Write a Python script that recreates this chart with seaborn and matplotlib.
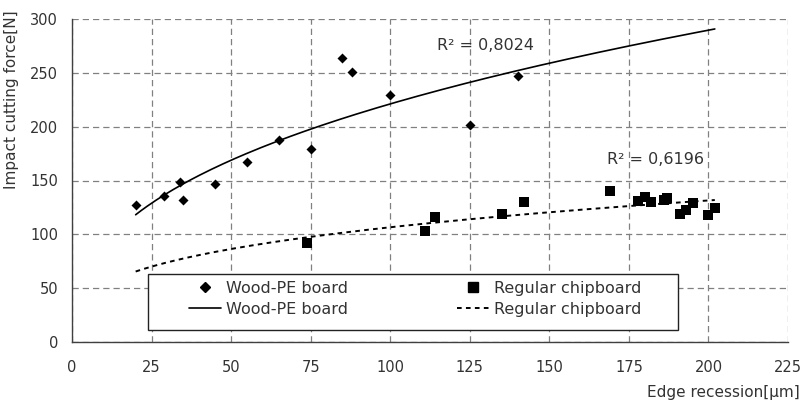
import numpy as np
import pandas as pd
import matplotlib
matplotlib.use("Agg")
import matplotlib.pyplot as plt
import seaborn as sns
from matplotlib.lines import Line2D
from matplotlib.patches import Rectangle

# ---- data ----
wood_x = [20, 29, 34, 35, 45, 55, 65, 75, 85, 88, 100, 125, 140]
wood_y = [127, 136, 149, 132, 147, 167, 188, 179, 264, 251, 229, 202, 247]
chip_x = [74, 111, 114, 135, 142, 169, 178, 180, 182, 186, 187, 191, 193, 195, 200, 202]
chip_y = [92, 103, 116, 119, 130, 140, 131, 135, 130, 132, 134, 119, 123, 129, 118, 124]
trend_range = [20, 202]
r2_wood = "0,8024"
r2_chip = "0,6196"
x_ticks = [0, 25, 50, 75, 100, 125, 150, 175, 200, 225]
y_ticks = [0, 50, 100, 150, 200, 250, 300]
label_wood = "Wood-PE board"
label_chip = "Regular chipboard"

sns.set_style("white")
plt.rcParams["font.family"] = ["DejaVu Sans"]
TXT = "#333333"

fig = plt.figure(figsize=(8.05, 4.03), dpi=100)
ax = fig.add_axes([72 / 805, 1 - 342 / 403, 716 / 805, 323 / 403])

# power trendlines fitted to the data (y = a * x^b)
def power_fit(x, y):
    b, lna = np.polyfit(np.log(x), np.log(y), 1)
    return np.exp(lna), b

xs = np.linspace(trend_range[0], trend_range[1], 200)
aw, bw = power_fit(np.array(wood_x, float), np.array(wood_y, float))
ac, bc = power_fit(np.array(chip_x, float), np.array(chip_y, float))
trend = pd.DataFrame({"x": xs, "wood": aw * xs ** bw, "chip": ac * xs ** bc})

sns.lineplot(data=trend, x="x", y="wood", ax=ax, color="black", lw=1.2, zorder=3)
sns.lineplot(data=trend, x="x", y="chip", ax=ax, color="black", lw=1.4,
             linestyle=(0, (2.4, 2.2)), zorder=3)

wood_df = pd.DataFrame({"x": wood_x, "y": wood_y})
chip_df = pd.DataFrame({"x": chip_x, "y": chip_y})
sns.scatterplot(data=wood_df, x="x", y="y", ax=ax, marker="D", s=26,
                color="black", edgecolor="black", linewidth=0, zorder=4)
sns.scatterplot(data=chip_df, x="x", y="y", ax=ax, marker="s", s=48,
                color="black", edgecolor="black", linewidth=0, zorder=4)

ax.set_xlim(0, 225)
ax.set_ylim(0, 300)
ax.set_xticks(x_ticks)
ax.set_yticks(y_ticks)
ax.grid(True, color="#808080", linestyle=(0, (5, 3.2)), linewidth=0.9)
ax.set_axisbelow(True)
for s in ["top", "right"]:
    ax.spines[s].set_visible(False)
for s in ["left", "bottom"]:
    ax.spines[s].set_color("#404040")
    ax.spines[s].set_linewidth(1.0)
ax.tick_params(axis="x", direction="inout", length=8, width=0.9, color="#404040",
               labelsize=10.5, labelcolor=TXT, pad=9)
ax.tick_params(axis="y", direction="inout", length=8, width=0.9, color="#404040",
               labelsize=10.5, labelcolor=TXT, pad=6)

ax.set_xlabel("Edge recession[μm]", fontsize=11, color=TXT, ha="right", va="center")
ax.xaxis.set_label_coords(1.017, -0.155)
ax.set_ylabel("Impact cutting force[N]", fontsize=11, color=TXT, va="center")
ax.yaxis.set_label_coords(-0.084, 0.75)

ax.text(114.6, 275.8, "R² = " + r2_wood, fontsize=11.5, color=TXT,
        ha="left", va="center", zorder=5)
ax.text(168, 169.8, "R² = " + r2_chip, fontsize=11.5, color=TXT,
        ha="left", va="center", zorder=5)

# legend box
ax.add_patch(Rectangle((0.106, 0.037), 0.74, 0.173, transform=ax.transAxes,
                       facecolor="white", edgecolor="#222222", lw=1.0, zorder=6))
h_wm = Line2D([], [], marker="D", ls="none", color="black", markersize=5)
h_wl = Line2D([], [], color="black", lw=1.2)
h_cm = Line2D([], [], marker="s", ls="none", color="black", markersize=6.5)
h_cl = Line2D([], [], color="black", lw=1.4, linestyle=(0, (2.4, 2.2)))
common = dict(loc="upper left", frameon=False, borderpad=0, borderaxespad=0,
              handlelength=2.0, handletextpad=0.3, labelspacing=0.4,
              fontsize=11.5, labelcolor=TXT)
leg1 = ax.legend([h_wm, h_wl], [label_wood, label_wood],
                 bbox_to_anchor=(0.1634, 0.19), **common)
leg1.set_zorder(7)
ax.add_artist(leg1)
leg2 = ax.legend([h_cm, h_cl], [label_chip, label_chip],
                 bbox_to_anchor=(0.5377, 0.19), **common)
leg2.set_zorder(7)

fig.savefig("out.png", dpi=100)
